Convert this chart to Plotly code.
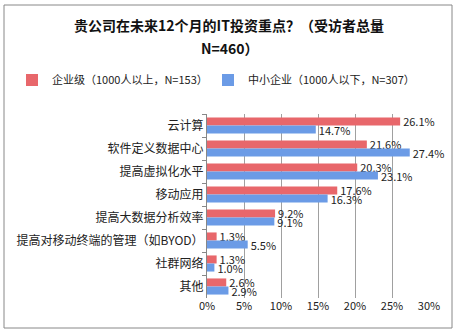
import plotly.graph_objects as go

categories = ["云计算", "软件定义数据中心", "提高虚拟化水平", "移动应用", "提高大数据分析效率",
              "提高对移动终端的管理（如BYOD）", "社群网络", "其他"]
enterprise = [26.1, 21.6, 20.3, 17.6, 9.2, 1.3, 1.3, 2.6]
smb = [14.7, 27.4, 23.1, 16.3, 9.1, 5.5, 1.0, 2.9]
series_names = ["企业级（1000人以上，N=153）", "中小企业（1000人以下，N=307）"]
title_lines = ["贵公司在未来12个月的IT投资重点？（受访者总量", "N=460）"]
x_ticks = [0, 5, 10, 15, 20, 25, 30]

FONT = "Noto Sans CJK SC"
W, H = 458, 333
ml, mr, mt, mb = 207, 29, 114, 35
pw, ph = W - ml - mr, H - mt - mb

fig = go.Figure()
for vals, name, color, lg in [(enterprise, series_names[0], "#E8676B", "legend"),
                              (smb, series_names[1], "#6B9BE6", "legend2")]:
    fig.add_trace(go.Bar(
        y=categories, x=vals, orientation="h", name=name,
        marker=dict(color=color, line=dict(width=0)),
        text=[f"{v:.1f}%" for v in vals], textposition="outside",
        constraintext="none",
        textfont=dict(size=11, color="#222", family=FONT),
        cliponaxis=False, legend=lg,
    ))

leg_common = dict(orientation="h", xanchor="left", xref="container",
                  y=1 - 80 / H, yanchor="middle", yref="container",
                  font=dict(size=11, family=FONT), bgcolor="rgba(0,0,0,0)")

fig.update_layout(
    width=W, height=H,
    margin=dict(l=ml, r=mr, t=mt, b=mb),
    paper_bgcolor="white", plot_bgcolor="white",
    barmode="group", bargap=0.3, bargroupgap=0.0,
    font=dict(family=FONT, color="#222"),
    legend=dict(x=12 / W, **leg_common),
    legend2=dict(x=208 / W, **leg_common),
    showlegend=True,
    xaxis=dict(range=[0, 30], tickvals=x_ticks, ticktext=[f"{t}%" for t in x_ticks],
               showgrid=True, gridcolor="#A0A0A0", gridwidth=1,
               zeroline=False, showline=False,
               tickfont=dict(size=11, color="#222", family=FONT)),
    yaxis=dict(autorange="reversed", showline=True, linecolor="#888",
               ticks="outside", ticklen=4, tickcolor="#888", tickson="boundaries",
               tickfont=dict(size=12, color="#222", family=FONT)),
    shapes=[dict(type="rect", xref="paper", yref="paper",
                 x0=(4 - ml) / pw, x1=(452 - ml) / pw,
                 y0=(H - mb - 328) / ph, y1=(H - mb - 5) / ph,
                 line=dict(color="#888", width=1), fillcolor="rgba(0,0,0,0)")],
    annotations=[
        dict(text=f"<b>{title_lines[0]}</b>", xref="paper", yref="paper",
             x=(229 - ml) / pw, y=(H - mb - 25) / ph, xanchor="center", yanchor="middle",
             showarrow=False, font=dict(size=14, family=FONT, color="#111")),
        dict(text=f"<b>{title_lines[1]}</b>", xref="paper", yref="paper",
             x=(230 - ml) / pw, y=(H - mb - 48) / ph, xanchor="center", yanchor="middle",
             showarrow=False, font=dict(size=14, family=FONT, color="#111")),
    ],
)
fig.write_html("out.html")
